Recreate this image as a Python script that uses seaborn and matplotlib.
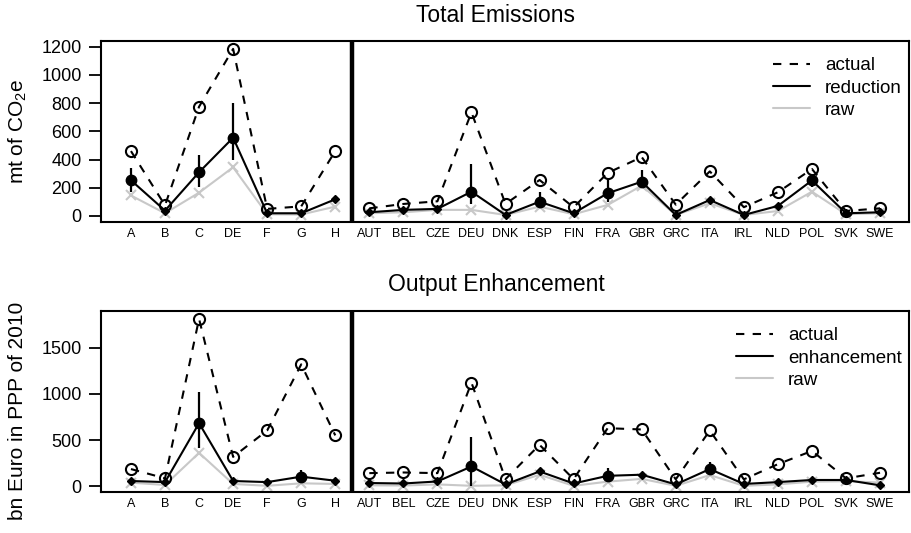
import numpy as np
import pandas as pd
import matplotlib
matplotlib.use("Agg")
import matplotlib.pyplot as plt
from matplotlib.lines import Line2D
import seaborn as sns

# ── data ──────────────────────────────────────────────────────────
sectors = ["A", "B", "C", "DE", "F", "G", "H"]
countries = ["AUT", "BEL", "CZE", "DEU", "DNK", "ESP", "FIN", "FRA",
             "GBR", "GRC", "ITA", "IRL", "NLD", "POL", "SVK", "SWE"]
nan = np.nan

# Total emissions (mt CO2e)
em_actual = [460, 75, 775, 1185, 50, 68, 460,
             54, 85, 104, 735, 85, 255, 61, 305, 418, 80, 316, 62, 168, 333, 35, 54]
em_reduction = [253, 38, 310, 555, 19, 19, 118,
                26, 43, 50, 172, 7, 101, 19, 161, 243, 7, 113, 7, 71, 252, 19, 26]
em_raw = [145, 19, 165, 345, 12, 10, 66,
          19, 26, 43, 43, 7, 66, 12, 78, 215, 7, 90, 7, 35, 172, 12, 19]
em_err_lo = [172, nan, 208, 397, nan, nan, nan,
             nan, nan, nan, 85, nan, 101, nan, 101, 205, nan, nan, nan, nan, 205, nan, nan]
em_err_hi = [343, nan, 432, 803, nan, nan, nan,
             nan, nan, nan, 366, nan, 168, nan, 267, 326, nan, nan, nan, nan, 300, nan, nan]

# Output enhancement (bn Euro, PPP 2010)
out_actual = [186, 86, 1810, 318, 603, 1318, 550,
              142, 149, 142, 1121, 77, 448, 77, 628, 614, 75, 603, 75, 239, 382, 86, 146]
out_enhancement = [57, 45, 682, 57, 45, 104, 60,
                   35, 30, 52, 214, 20, 160, 30, 113, 125, 20, 186, 25, 45, 68, 68, 10]
out_raw = [39, 14, 361, 25, 5, 32, 25,
           10, 8, 20, 5, 10, 124, 5, 50, 80, 5, 121, 5, 20, 50, 55, 40]
out_err_lo = [nan, nan, 418, nan, nan, 104, nan,
              nan, nan, nan, 0, nan, nan, nan, 113, nan, nan, 186, nan, nan, nan, nan, nan]
out_err_hi = [nan, nan, 1021, nan, nan, 175, nan,
              nan, nan, nan, 538, nan, nan, nan, 196, nan, nan, 264, nan, nan, nan, nan, nan]

GREY = "#c8c8c8"
DPX = 100

sns.set_theme(style="ticks")
plt.rcParams.update({
    "font.family": ["Liberation Sans", "DejaVu Sans"],
    "mathtext.default": "regular",
    "axes.edgecolor": "black", "axes.linewidth": 1.5,
    "xtick.color": "black", "ytick.color": "black", "text.color": "black",
})

labels = sectors + countries
pos = np.arange(len(labels))
group = np.where(pos < len(sectors), "sector", "country")


def draw_panel(ax, actual, reduction, raw, lo, hi, red_name, yticks, ylim):
    df = pd.DataFrame({"pos": pos, "group": group, "actual": actual,
                       "reduction": reduction, "raw": raw})
    for g in ["sector", "country"]:
        d = df[df["group"] == g]
        sns.lineplot(data=d, x="pos", y="raw", ax=ax, color=GREY, lw=1.5,
                     marker="x", ms=7, mew=1.5, mec=GREY,
                     estimator=None, errorbar=None, sort=False)
        sns.lineplot(data=d, x="pos", y="actual", ax=ax, color="black", lw=1.5,
                     linestyle=(0, (4, 4)), marker="o", ms=8, mew=1.5,
                     mfc="none", mec="black",
                     estimator=None, errorbar=None, sort=False)
        sns.lineplot(data=d, x="pos", y="reduction", ax=ax, color="black", lw=1.5,
                     estimator=None, errorbar=None, sort=False)
    red = np.asarray(reduction, float)
    lo = np.asarray(lo, float)
    hi = np.asarray(hi, float)
    has_err = ~np.isnan(hi) | ~np.isnan(lo)
    lo_f = np.where(np.isnan(lo), red, lo)
    hi_f = np.where(np.isnan(hi), red, hi)
    ax.vlines(pos[has_err], lo_f[has_err], hi_f[has_err], color="black", lw=1.6, zorder=4)
    ax.plot(pos[has_err], red[has_err], "o", ms=7.5, color="black", zorder=5)
    ax.plot(pos[~has_err], red[~has_err], "D", ms=4, color="black", zorder=5)

    ax.axvline(len(sectors) - 0.5, color="black", lw=3.2)
    ax.set_xlim(-0.88, 22.85)
    ax.set_ylim(*ylim)
    ax.set_xticks(pos)
    ax.set_xticklabels(labels, fontsize=9)
    ax.set_yticks(yticks)
    ax.set_yticklabels([str(t) for t in yticks], fontsize=13)
    ax.tick_params(axis="x", length=0, pad=4)
    ax.tick_params(axis="y", length=9, width=1.3, pad=5, direction="out")
    ax.set_xlabel("")
    ax.set_ylabel("")
    for sp in ax.spines.values():
        sp.set_visible(True)
        sp.set_linewidth(1.5)

    handles = [Line2D([], [], color="black", lw=1.5, linestyle=(0, (4, 4))),
               Line2D([], [], color="black", lw=1.5),
               Line2D([], [], color=GREY, lw=1.5)]
    ax.legend(handles, ["actual", red_name, "raw"], loc="upper right",
              bbox_to_anchor=(0.991, 0.91), frameon=False, fontsize=13.5,
              handlelength=1.95, handletextpad=0.8, labelspacing=0.27,
              borderpad=0, borderaxespad=0)


fig = plt.figure(figsize=(911 / DPX, 533 / DPX), dpi=DPX)
ax_top = fig.add_axes([101 / 911, 1 - 222 / 533, 808 / 911, 181 / 533])
ax_bot = fig.add_axes([101 / 911, 1 - 492 / 533, 808 / 911, 181 / 533])

draw_panel(ax_top, em_actual, em_reduction, em_raw, em_err_lo, em_err_hi,
           "reduction", [0, 200, 400, 600, 800, 1000, 1200], (-43, 1241))
draw_panel(ax_bot, out_actual, out_enhancement, out_raw, out_err_lo, out_err_hi,
           "enhancement", [0, 500, 1000, 1500], (-62, 1895))

fig.text(496 / 911, 1 - 15 / 533, "Total Emissions", ha="center", va="center", fontsize=16.5)
fig.text(496 / 911, 1 - 284 / 533, "Output Enhancement", ha="center", va="center", fontsize=16.5)
fig.text(18 / 911, 1 - 131 / 533, "mt of CO$_2$e", rotation=90,
         ha="center", va="center", fontsize=15)
fig.text(18 / 911, 1 - 411 / 533, "bn Euro in PPP of 2010", rotation=90,
         ha="center", va="center", fontsize=15)

fig.savefig("out.png", dpi=DPX)
plt.close(fig)
